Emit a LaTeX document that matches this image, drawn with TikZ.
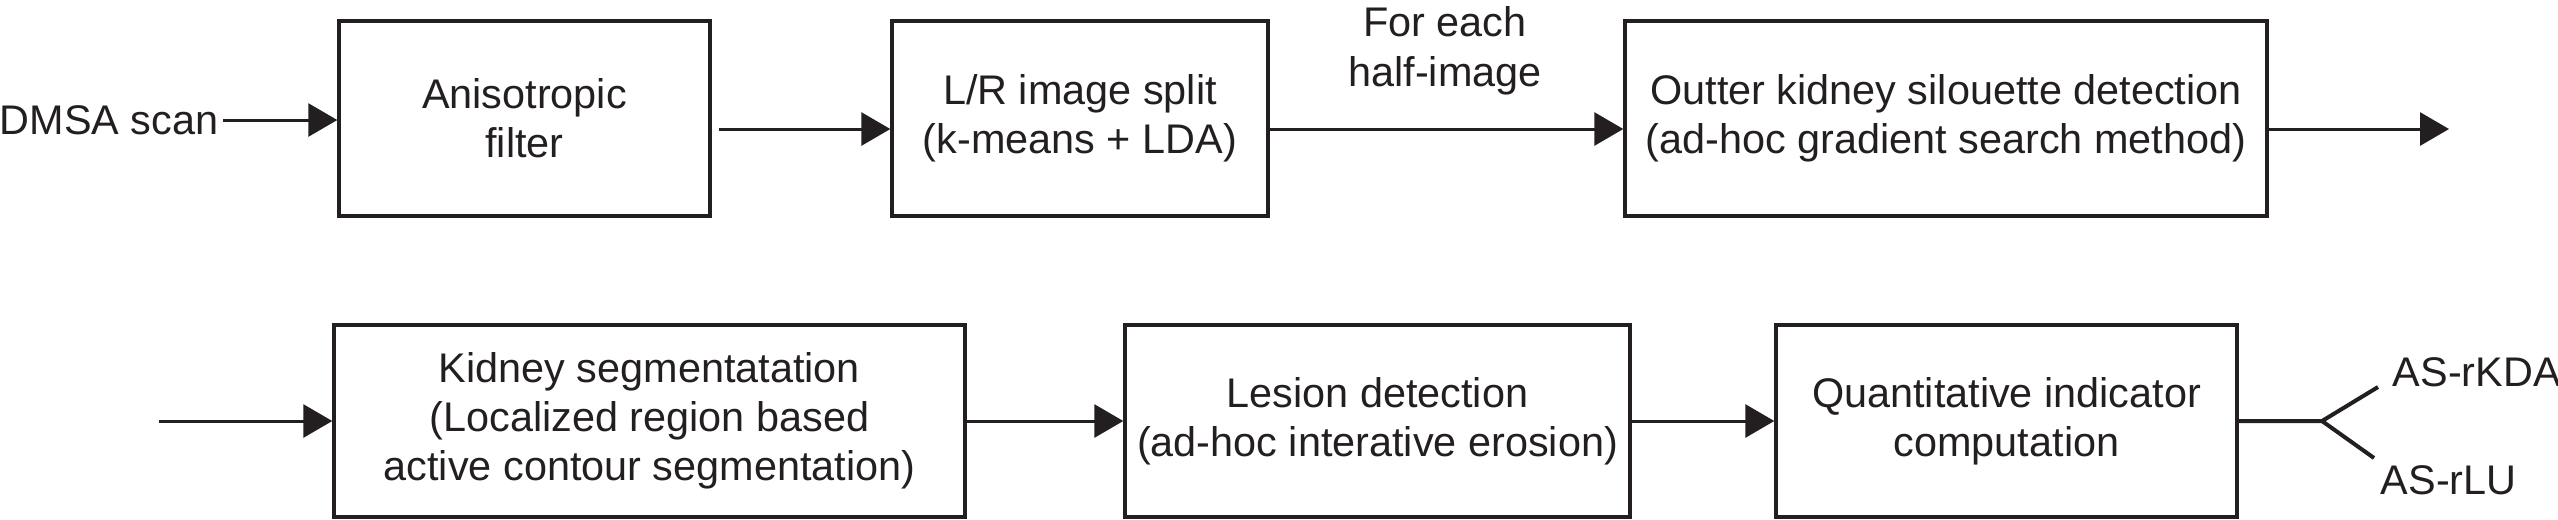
\documentclass[tikz,border=0pt]{standalone}
\usepackage{fontspec}
\setmainfont{Liberation Sans}
\usetikzlibrary{arrows.meta}
\definecolor{ink}{RGB}{35,31,32}
\begin{document}
\begin{tikzpicture}[x=0.25pt,y=-0.25pt,
  every node/.style={font=\fontsize{10.35pt}{12.3pt}\selectfont, text=ink},
  box/.style={draw=ink, line width=0.85pt, inner sep=0pt, align=center},
  arr/.style={draw=ink, line width=0.75pt, -{Triangle[length=7.25pt,width=8.25pt]}},
  ln/.style={draw=ink, line width=0.8pt}]
\useasboundingbox (0,0) rectangle (2558,519);
% top row
\node[box, minimum width=92.75pt, minimum height=48.75pt] (b1) at (524.5,118.5) {Anisotropic\\filter};
\node[box, minimum width=94pt, minimum height=48.75pt] (b2) at (1080,118.5) {L/R image split\\(k-means + LDA)};
\node[box, minimum width=160.5pt, minimum height=48.75pt] (b3) at (1946,118.5) {Outter kidney silouette detection\\(ad-hoc gradient search method)};
\node[anchor=east, inner sep=0pt] (dmsa) at (219,120) {DMSA scan};
\node[inner sep=0pt, align=center, anchor=base] (lab) at (1445,86) {For each\\half-image};
\coordinate (c12) at (719,129);
\coordinate (tend) at (2449,129);
\draw[arr] (dmsa.east) ++(4,0) -- (dmsa.east -| b1.west);
\draw[arr] (c12) -- (c12 -| b2.west);
\draw[arr] (b2.east |- c12) -- (c12 -| b3.west);
\draw[arr] (b3.east |- c12) -- (tend);
% bottom row
\node[box, minimum width=157.75pt, minimum height=48pt] (k) at (649.5,421) {Kidney segmentatation\\(Localized region based\\active contour segmentation)};
\node[box, minimum width=126.25pt, minimum height=48pt] (l) at (1377.5,421) {Lesion detection\\(ad-hoc interative erosion)};
\node[box, minimum width=115.25pt, minimum height=48pt] (q) at (2006.5,421) {Quantitative indicator\\computation};
\coordinate (bstart) at (159,421);
\coordinate (fork) at (2322,421);
\coordinate (up) at (2378,387);
\coordinate (dn) at (2374,458);
\node[anchor=base west, inner sep=0pt] (kda) at (2392,386) {AS-rKDA};
\node[anchor=base west, inner sep=0pt] (lu) at (2380,494) {AS-rLU};
\draw[arr] (bstart) -- (k.west);
\draw[arr] (k.east) -- (l.west);
\draw[arr] (l.east) -- (q.west);
\draw[ln, line width=1pt] (q.east) -- (fork) -- (up);
\draw[ln, line width=1pt] (fork) -- (dn);
\end{tikzpicture}
\end{document}
